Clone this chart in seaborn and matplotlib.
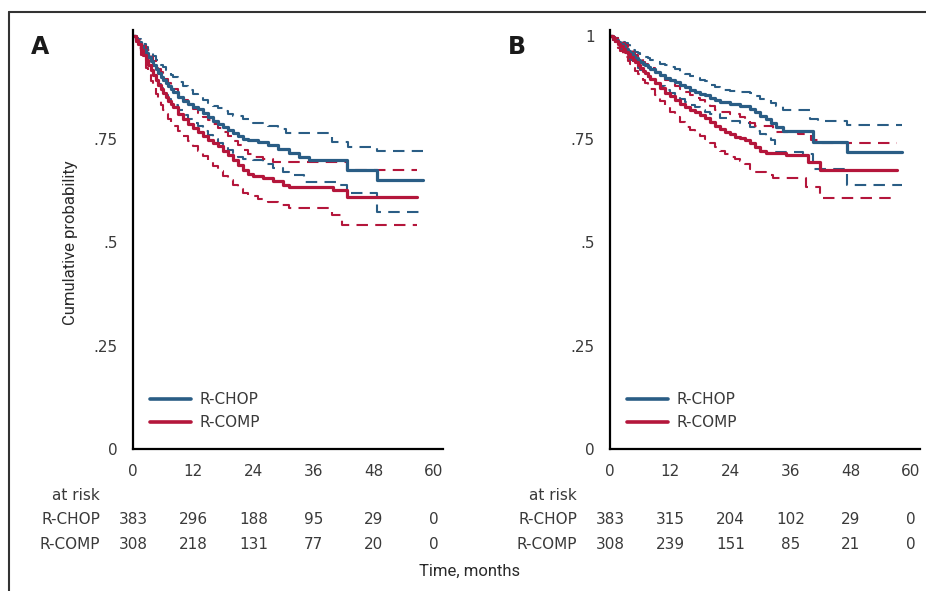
import numpy as np
import pandas as pd
import seaborn as sns
import matplotlib.pyplot as plt
from matplotlib.lines import Line2D

# ---- data (months, cumulative probability) ----
# panel A
a_chop_t = [0, .5, 1, 1.5, 2, 2.5, 3, 3.5, 4, 4.5, 5, 5.5, 6, 6.5, 7, 7.5, 8, 9, 10, 11, 12, 13, 14, 15, 16, 17, 18, 19, 20, 21, 22, 23, 25, 27, 29, 31, 33, 35, 42.6, 48.6, 57.8]
a_chop_s = [1, .993, .985, .976, .967, .958, .948, .939, .93, .92, .91, .901, .893, .885, .878, .871, .864, .852, .843, .835, .829, .824, .814, .804, .795, .787, .779, .772, .765, .758, .751, .747, .744, .737, .727, .717, .708, .70, .676, .651, .651]
a_chop_hi_t = [0, .5, 1, 1.5, 2, 2.5, 3, 3.5, 4, 4.5, 5, 5.5, 6, 6.5, 7, 7.5, 8, 9, 10, 11, 12, 13, 14, 15, 16, 17, 18, 19, 20, 22, 24, 27, 29, 30.5, 39.6, 42.8, 48.6, 57.8]
a_chop_hi_s = [1, .996, .992, .986, .98, .973, .966, .958, .951, .943, .936, .93, .924, .918, .912, .906, .90, .889, .879, .869, .86, .853, .846, .838, .831, .825, .818, .812, .806, .798, .79, .782, .775, .766, .744, .732, .722, .722]
a_chop_lo_t = [0, .5, 1, 1.5, 2, 2.5, 3, 3.5, 4, 4.5, 5, 5.5, 6, 6.5, 7, 7.5, 8, 9, 10, 11, 12, 13, 14, 15, 16, 17, 18, 19, 20, 21, 22, 24, 26, 28, 30, 31, 34, 40.6, 42.6, 48.6, 57.8]
a_chop_lo_s = [1, .989, .978, .966, .955, .942, .93, .918, .906, .895, .884, .874, .865, .856, .848, .84, .833, .82, .808, .798, .789, .781, .771, .761, .751, .742, .733, .724, .715, .708, .703, .699, .69, .68, .67, .663, .647, .64, .62, .575, .575]

a_comp_t = [0, .5, 1, 1.5, 2, 2.5, 3, 3.5, 4, 4.5, 5, 5.5, 6, 6.5, 7, 7.5, 8, 9, 10, 11, 12, 13, 14, 15, 16, 17, 18, 19, 20, 21, 22, 23, 24, 26, 28, 30, 31, 39.8, 42.6, 56.7]
a_comp_s = [1, .99, .98, .967, .955, .942, .93, .917, .905, .893, .882, .871, .861, .852, .843, .835, .827, .812, .798, .786, .777, .768, .758, .749, .741, .733, .722, .711, .70, .688, .676, .665, .66, .657, .648, .64, .635, .627, .611, .611]
a_comp_hi_t = [0, .5, 1, 1.5, 2, 2.5, 3, 3.5, 4, 4.5, 5, 5.5, 6, 6.5, 7, 7.5, 8, 9, 10, 11, 12, 13, 14, 15, 16, 17, 18, 19, 20, 21, 22, 23, 24, 26, 28, 42.6, 56.7]
a_comp_hi_s = [1, .995, .99, .983, .975, .967, .958, .949, .94, .93, .921, .912, .903, .895, .887, .879, .872, .858, .845, .833, .823, .814, .805, .796, .787, .778, .768, .757, .746, .735, .724, .714, .708, .703, .696, .676, .676]
a_comp_lo_t = [0, .5, 1, 1.5, 2, 2.5, 3, 3.5, 4, 4.5, 5, 5.5, 6, 6.5, 7, 7.5, 8, 9, 10, 11, 12, 13, 14, 15, 16, 17, 18, 19, 20, 21, 22, 23, 25, 27, 29, 31, 39.6, 41.6, 56.7]
a_comp_lo_s = [1, .985, .97, .955, .94, .922, .905, .89, .875, .86, .845, .833, .822, .811, .80, .791, .783, .77, .757, .745, .733, .722, .71, .697, .685, .673, .662, .651, .64, .63, .62, .612, .606, .598, .59, .583, .567, .542, .542]

# panel B
b_chop_t = [0, .5, 1, 1.5, 2, 2.5, 3, 3.5, 4, 4.5, 5, 5.5, 6, 6.5, 7, 7.5, 8, 9, 10, 11, 12, 13, 14, 15, 16, 17, 18, 19, 20, 21, 22, 24, 26, 28, 29, 30, 31, 32, 33, 34.5, 40.5, 47.2, 58.2]
b_chop_s = [1, .995, .99, .985, .98, .975, .969, .964, .958, .952, .947, .942, .938, .933, .929, .924, .92, .912, .905, .899, .894, .888, .882, .876, .87, .865, .86, .856, .851, .846, .841, .835, .83, .823, .815, .807, .798, .789, .78, .771, .744, .72, .72]
b_chop_hi_t = [0, .5, 1, 1.5, 2, 2.5, 3, 3.5, 4, 4.5, 5, 5.5, 6, 6.5, 7, 7.5, 8, 9, 10, 11, 12, 13, 14, 15, 16, 17, 18, 19, 20, 21, 22, 24, 26, 28, 29, 30, 32, 33, 34.5, 39.8, 41.5, 47.2, 58.2]
b_chop_hi_s = [1, .998, .996, .993, .99, .986, .982, .977, .972, .967, .962, .958, .955, .952, .949, .946, .943, .938, .933, .929, .925, .919, .913, .908, .903, .898, .894, .89, .882, .876, .87, .867, .865, .862, .855, .848, .838, .83, .821, .80, .793, .785, .785]
b_chop_lo_t = [0, .5, 1, 1.5, 2, 2.5, 3, 3.5, 4, 4.5, 5, 5.5, 6, 6.5, 7, 7.5, 8, 9, 10, 11, 12, 13, 14, 15, 16, 17, 18, 19, 20, 22, 24, 26, 28, 29, 30, 31, 32, 32.9, 38.5, 40.5, 47.2, 58.2]
b_chop_lo_s = [1, .99, .982, .975, .968, .961, .954, .947, .941, .935, .929, .923, .918, .912, .907, .901, .896, .887, .878, .87, .862, .855, .848, .841, .834, .828, .822, .816, .81, .802, .795, .789, .78, .771, .763, .755, .748, .72, .714, .677, .639, .639]

b_comp_t = [0, .5, 1, 1.5, 2, 2.5, 3, 3.5, 4, 4.5, 5, 5.5, 6, 6.5, 7, 7.5, 8, 9, 10, 11, 12, 13, 14, 15, 16, 17, 18, 19, 20, 21, 22, 23, 24, 25, 26, 27, 28, 29, 30, 31, 35, 39.5, 41.8, 57.2]
b_comp_s = [1, .994, .988, .981, .975, .968, .962, .956, .95, .943, .936, .929, .922, .916, .91, .903, .897, .885, .873, .863, .855, .846, .836, .828, .82, .815, .808, .801, .792, .782, .775, .768, .762, .756, .752, .747, .74, .731, .722, .716, .712, .696, .675, .675]
b_comp_hi_t = [0, .5, 1, 1.5, 2, 2.5, 3, 3.5, 4, 4.5, 5, 5.5, 6, 6.5, 7, 7.5, 8, 9, 10, 11, 12, 13, 14, 15, 16, 17, 18, 19, 20, 21, 22, 24, 26, 27, 28, 29, 32.5, 37.5, 40, 42, 57.2]
b_comp_hi_s = [1, .998, .995, .991, .987, .982, .977, .971, .966, .96, .955, .949, .944, .938, .933, .927, .922, .912, .902, .894, .887, .879, .871, .864, .857, .851, .845, .838, .83, .822, .816, .812, .805, .797, .79, .782, .768, .762, .748, .74, .74]
b_comp_lo_t = [0, .5, 1, 1.5, 2, 2.5, 3, 3.5, 4, 4.5, 5, 5.5, 6, 6.5, 7, 7.5, 8, 9, 10, 11, 12, 13, 14, 15, 16, 17, 18, 19, 20, 21, 22, 23, 24, 25, 26, 27, 28, 29, 31, 32.5, 39, 41.8, 57.2]
b_comp_lo_s = [1, .99, .98, .971, .963, .955, .948, .94, .932, .923, .915, .907, .90, .893, .887, .879, .871, .856, .842, .829, .817, .805, .792, .78, .772, .765, .758, .75, .741, .731, .722, .714, .708, .702, .698, .69, .678, .67, .663, .656, .635, .607, .607]

arms = ["R-CHOP", "R-COMP"]
risk_times = [0, 12, 24, 36, 48, 60]
a_risk = {"R-CHOP": [383, 296, 188, 95, 29, 0], "R-COMP": [308, 218, 131, 77, 20, 0]}
b_risk = {"R-CHOP": [383, 315, 204, 102, 29, 0], "R-COMP": [308, 239, 151, 85, 21, 0]}

colors = {"R-CHOP": "#2a5d85", "R-COMP": "#b4163b"}
txt = "#3a3a3a"

sns.set_theme(style="white")
plt.rcParams["font.family"] = ["DejaVu Sans"]

fig = plt.figure(figsize=(9.26, 5.91), dpi=100)
W, H = 926, 591
axA = fig.add_axes([133 / W, 142 / H, 310 / W, 419 / H])
axB = fig.add_axes([610 / W, 142 / H, 310 / W, 419 / H])


def km(ax, t, s, arm, dashed=False):
    if dashed:
        sns.lineplot(x=t, y=s, ax=ax, color=colors[arm], lw=1.5, estimator=None,
                     drawstyle="steps-post", linestyle=(0, (5.5, 3.5)))
    else:
        sns.lineplot(x=t, y=s, ax=ax, color=colors[arm], lw=2.3, estimator=None,
                     drawstyle="steps-post")


def panel(ax, curves, risk, top_label):
    for arm, (t, s, th, sh, tl, sl) in curves.items():
        km(ax, th, sh, arm, dashed=True)
        km(ax, tl, sl, arm, dashed=True)
    for arm, (t, s, th, sh, tl, sl) in curves.items():
        km(ax, t, s, arm)

    ax.set_xlim(0, 61.8)
    ax.set_ylim(0, 1.0145)
    ax.set_xticks(risk_times)
    ax.set_yticks([0, .25, .5, .75, 1])
    ax.set_yticklabels(["0", ".25", ".5", ".75", top_label])
    ax.set_xlabel("")
    ax.set_ylabel("")
    for side in ["top", "right"]:
        ax.spines[side].set_visible(False)
    for side in ["left", "bottom"]:
        ax.spines[side].set_color("black")
        ax.spines[side].set_linewidth(1.6)
    ax.tick_params(axis="both", direction="out", length=5, width=1.2,
                   color="black", labelsize=11, labelcolor=txt, pad=6)
    ax.set_facecolor("white")

    handles = [Line2D([], [], color=colors[a], lw=2.6) for a in arms]
    ax.legend(handles, arms, loc="center left", bbox_to_anchor=(0.055, 0.09),
              frameon=False, fontsize=11, handlelength=2.7, handletextpad=0.55,
              labelspacing=0.5, borderpad=0, borderaxespad=0, labelcolor=txt)

    tr = ax.get_xaxis_transform()
    ax.text(-6.6, -0.112, "at risk", transform=tr, ha="right", va="center",
            fontsize=11, color=txt, clip_on=False)
    for i, arm in enumerate(arms):
        y = -0.169 - 0.058 * i
        ax.text(-6.6, y, arm, transform=tr, ha="right", va="center",
                fontsize=11, color=txt, clip_on=False)
        for tt, n in zip(risk_times, risk[arm]):
            ax.text(tt, y, str(n), transform=tr, ha="center", va="center",
                    fontsize=11, color=txt, clip_on=False)


panel(axA, {"R-CHOP": (a_chop_t, a_chop_s, a_chop_hi_t, a_chop_hi_s, a_chop_lo_t, a_chop_lo_s),
            "R-COMP": (a_comp_t, a_comp_s, a_comp_hi_t, a_comp_hi_s, a_comp_lo_t, a_comp_lo_s)},
      a_risk, "")
panel(axB, {"R-CHOP": (b_chop_t, b_chop_s, b_chop_hi_t, b_chop_hi_s, b_chop_lo_t, b_chop_lo_s),
            "R-COMP": (b_comp_t, b_comp_s, b_comp_hi_t, b_comp_hi_s, b_comp_lo_t, b_comp_lo_s)},
      b_risk, "1")

# panel letters and shared labels
fig.text(40 / W, 1 - 47 / H, "A", fontsize=17, fontweight="bold", ha="center", va="center", color="#1a1a1a")
fig.text(517 / W, 1 - 47 / H, "B", fontsize=17, fontweight="bold", ha="center", va="center", color="#1a1a1a")
cond = dict(family=["Roboto", "DejaVu Sans"], color="#2a2a2a")
fig.text(70 / W, 1 - 243 / H, "Cumulative probability", rotation=90, fontsize=12,
         ha="center", va="center", **cond)
fig.text(470 / W, 1 - 571 / H, "Time, months", fontsize=12, ha="center", va="center", **cond)

# frame lines on top and left
fig.add_artist(Line2D([9 / W, 1], [1 - 12 / H, 1 - 12 / H], transform=fig.transFigure, color="#333333", lw=1.5))
fig.add_artist(Line2D([9 / W, 9 / W], [0, 1 - 12 / H], transform=fig.transFigure, color="#333333", lw=1.5))

fig.savefig("out.png", dpi=100, facecolor="white")
